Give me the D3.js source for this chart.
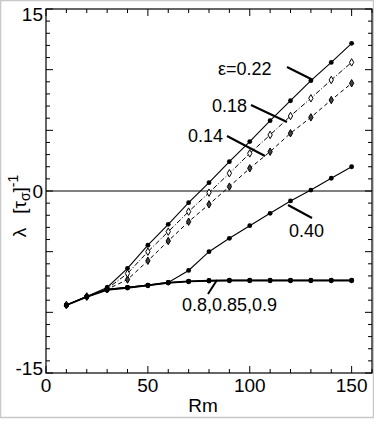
<!DOCTYPE html>
<html><head><meta charset="utf-8">
<script src="https://cdn.jsdelivr.net/npm/d3@7"></script>
<style>
body{margin:0;background:#fff;}
svg{display:block;font-family:"Liberation Sans",Arial,Helvetica,sans-serif;}
</style></head>
<body><svg id="c" width="374" height="421"></svg>
<script>
const rm = [10,20,30,40,50,60,70,80,90,100,110,120,130,140,150];
const eps022 = [-9.4,-8.7,-7.95,-6.37,-4.47,-2.75,-0.96,0.69,2.42,4.07,5.8,7.44,9.09,10.6,12.17];
const eps018 = [-9.4,-8.7,-8.05,-6.8,-5.0,-3.35,-1.7,-0.14,1.46,3.1,4.62,6.18,7.64,9.15,10.6];
const eps014 = [-9.4,-8.7,-8.1,-7.3,-5.75,-4.12,-2.53,-1.1,0.36,1.87,3.24,4.76,6.07,7.5,8.88];
const eps040 = [-9.4,-8.7,-8.1,-7.94,-7.75,-7.53,-6.55,-5.0,-3.9,-2.86,-1.84,-0.82,0.08,1.05,2.0];
const eps080 = [-9.4,-8.7,-8.1,-7.94,-7.75,-7.53,-7.42,-7.36,-7.34,-7.34,-7.34,-7.34,-7.34,-7.34,-7.34];
const eps085 = [-9.42,-8.72,-8.14,-7.97,-7.78,-7.56,-7.45,-7.39,-7.37,-7.37,-7.37,-7.37,-7.37,-7.37,-7.37];
const eps090 = [-9.44,-8.75,-8.18,-8.0,-7.81,-7.59,-7.48,-7.42,-7.4,-7.4,-7.4,-7.4,-7.4,-7.4,-7.4];
const xTicks = [0,50,100,150];
const yTicks = [-15,0,15];

const svg = d3.select("#c");
const x = d3.scaleLinear().domain([0,160]).range([46,372]);
const y = d3.scaleLinear().domain([-15,15]).range([373,9]);

// outer frame
svg.append("rect").attr("x",0.5).attr("y",0.5).attr("width",373).attr("height",417)
  .attr("fill","none").attr("stroke","#c8c8c8").attr("stroke-width",1.5);

const g = svg.append("g");
g.append("rect").attr("x",x(0)).attr("y",y(15)).attr("width",x(160)-x(0)).attr("height",y(-15)-y(15))
  .attr("fill","none").attr("stroke","#000").attr("stroke-width",1.2);

const xMinor = d3.range(0,161,10);
const yMinor = d3.range(-15,16,1);
xMinor.forEach(v=>{
  const L = v%50===0?7:4;
  g.append("line").attr("x1",x(v)).attr("x2",x(v)).attr("y1",y(-15)).attr("y2",y(-15)-L).attr("stroke","#000");
  g.append("line").attr("x1",x(v)).attr("x2",x(v)).attr("y1",y(15)).attr("y2",y(15)+L).attr("stroke","#000");
});
yMinor.forEach(v=>{
  const L = v%5===0?7:4;
  g.append("line").attr("x1",x(0)).attr("x2",x(0)+L).attr("y1",y(v)).attr("y2",y(v)).attr("stroke","#000");
  g.append("line").attr("x1",x(160)).attr("x2",x(160)-L).attr("y1",y(v)).attr("y2",y(v)).attr("stroke","#000");
});
xTicks.forEach(v=>{
  g.append("text").attr("x",x(v)).attr("y",392).attr("text-anchor","middle")
   .attr("font-size",19).text(v);
});
yTicks.forEach(v=>{
  const dy = v===15 ? 12 : (v===-15 ? 2 : 7);
  g.append("text").attr("x",43).attr("y",y(v)+dy).attr("text-anchor","end")
   .attr("font-size",19).text(v);
});
g.append("text").attr("x",203).attr("y",412).attr("text-anchor","middle").attr("font-size",19).text("Rm");
const yl = g.append("text").attr("transform","translate(26,206) rotate(-90)").attr("text-anchor","middle").attr("font-size",19);
yl.append("tspan").text("λ");
yl.append("tspan").attr("dx",14).text("[τ");
yl.append("tspan").attr("font-size",14).attr("dy",4).text("σ");
yl.append("tspan").attr("dy",-4).text("]");
yl.append("tspan").attr("font-size",14).attr("dy",-8).text("-1");

g.append("line").attr("x1",x(0)).attr("x2",x(160)).attr("y1",y(0)).attr("y2",y(0)).attr("stroke","#000").attr("stroke-width",1);

const line = d3.line().x((d,i)=>x(rm[i])).y(d=>y(d));
function series(vals, dash, width, marker){
  g.append("path").attr("d",line(vals)).attr("fill","none").attr("stroke","#000")
   .attr("stroke-width",width).attr("stroke-dasharray",dash);
  vals.forEach((v,i)=>{
    if(marker==="dot"){
      g.append("circle").attr("cx",x(rm[i])).attr("cy",y(v)).attr("r",2.4).attr("fill","#000");
    } else if(marker==="open"){
      g.append("path").attr("d",d3.symbol(d3.symbolDiamond,16)()).attr("transform",`translate(${x(rm[i])},${y(v)})`)
       .attr("fill","#fff").attr("stroke","#000").attr("stroke-width",1);
    } else {
      g.append("path").attr("d",d3.symbol(d3.symbolDiamond,16)()).attr("transform",`translate(${x(rm[i])},${y(v)})`)
       .attr("fill","#444").attr("stroke","#000").attr("stroke-width",1);
    }
  });
}
series(eps014,"4,3",1,"half");
series(eps018,"5,2,1,2",1,"open");
series(eps022,null,1.1,"dot");
series(eps040,null,1.1,"dot");
series(eps090,null,1.2,"dot");
series(eps085,null,1.2,"dot");
series(eps080,null,1.2,"dot");

function ann(txt, tx, ty, x1, y1, x2, y2){
  g.append("text").attr("x",tx).attr("y",ty).attr("font-size",18).text(txt);
  g.append("line").attr("x1",x1).attr("y1",y1).attr("x2",x2).attr("y2",y2).attr("stroke","#000").attr("stroke-width",2);
}
ann("ε=0.22",218,75,287,67,313,80);
ann("0.18",212,112,251,105,287,122);
ann("0.14",188,142,227,136,265,156);
ann("0.40",289,237,288,205,312,218);
ann("0.8,0.85,0.9",182,311,217,280,208,294);
</script></body></html>
